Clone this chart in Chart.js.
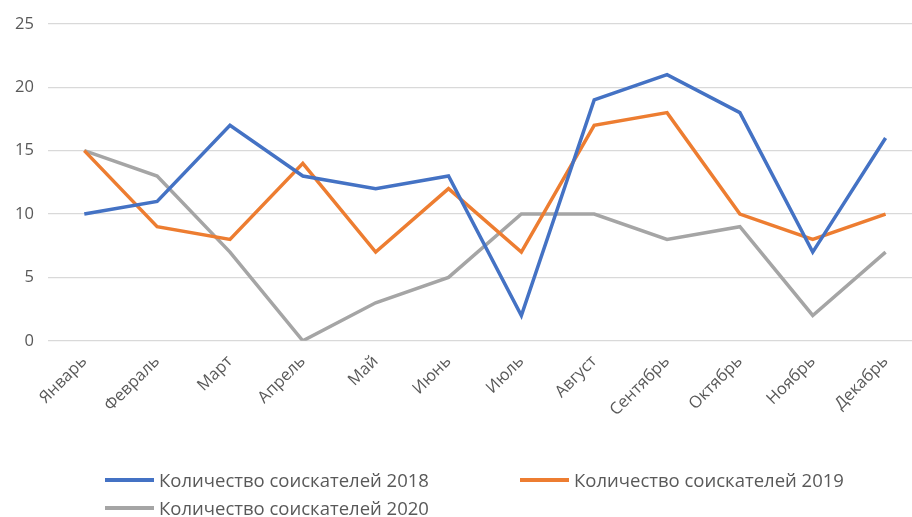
<!DOCTYPE html>
<html>
<head>
<meta charset="utf-8">
<script src="https://cdn.jsdelivr.net/npm/chart.js@4"></script>
<style>
  body { margin: 0; background: #fff; overflow: hidden; }
  #wrap { position: relative; width: 912px; height: 517px; overflow: hidden; }
  #legend { position: absolute; left: 105px; top: 467px; width: 780px; font-family: "Open Sans", sans-serif; font-size: 18.5px; color: #595959; }
  .item { position: absolute; display: flex; align-items: center; white-space: nowrap; }
  .item span.line { display: inline-block; width: 49px; height: 4px; margin-right: 5px; }
</style>
</head>
<body>
<div id="wrap">
  <canvas id="myChart" width="922" height="517"></canvas>
  <div id="legend"></div>
</div>
<script>
const months = ["Январь", "Февраль", "Март", "Апрель", "Май", "Июнь", "Июль", "Август", "Сентябрь", "Октябрь", "Ноябрь", "Декабрь"];
const seekers2018 = [10, 11, 17, 13, 12, 13, 2, 19, 21, 18, 7, 16];
const seekers2019 = [15, 9, 8, 14, 7, 12, 7, 17, 18, 10, 8, 10];
const seekers2020 = [15, 13, 7, 0, 3, 5, 10, 10, 8, 9, 2, 7];
const seriesNames = ["Количество соискателей 2018", "Количество соискателей 2019", "Количество соискателей 2020"];

const colors = ['#4472C4', '#ED7D31', '#A5A5A5'];
const tickFont = { family: "'Open Sans', sans-serif", size: 16.5 };

const chart = new Chart("myChart", {
  type: "line",
  data: {
    labels: months,
    datasets: [seekers2018, seekers2019, seekers2020].map((d, i) => ({
      label: seriesNames[i],
      data: d,
      borderColor: colors[i],
      backgroundColor: colors[i],
      borderWidth: 3.5,
      pointRadius: 0,
      tension: 0,
      fill: false
    }))
  },
  options: {
    responsive: false,
    animation: false,
    layout: { padding: { top: 3, right: 0, left: 1, bottom: 94 } },
    scales: {
      y: {
        min: 0,
        max: 25,
        ticks: { stepSize: 5, color: '#595959', font: tickFont, padding: 14 },
        grid: { color: '#d9d9d9', lineWidth: 1.3, drawTicks: false },
        border: { display: false }
      },
      x: {
        offset: true,
        ticks: { color: '#595959', font: tickFont, maxRotation: 45, minRotation: 45, padding: 3 },
        grid: { display: false },
        border: { display: false }
      }
    },
    plugins: {
      legend: { display: false },
      tooltip: { enabled: false }
    }
  }
});

// legend laid out like the original: two on the first row, one below
const legendPos = [[0, 0], [415, 0], [0, 28]];
const legendEl = document.getElementById('legend');
seriesNames.forEach((name, i) => {
  const item = document.createElement('div');
  item.className = 'item';
  item.style.left = legendPos[i][0] + 'px';
  item.style.top = legendPos[i][1] + 'px';
  item.innerHTML = '<span class="line" style="background:' + colors[i] + '"></span>' + name;
  legendEl.appendChild(item);
});
</script>
</body>
</html>
